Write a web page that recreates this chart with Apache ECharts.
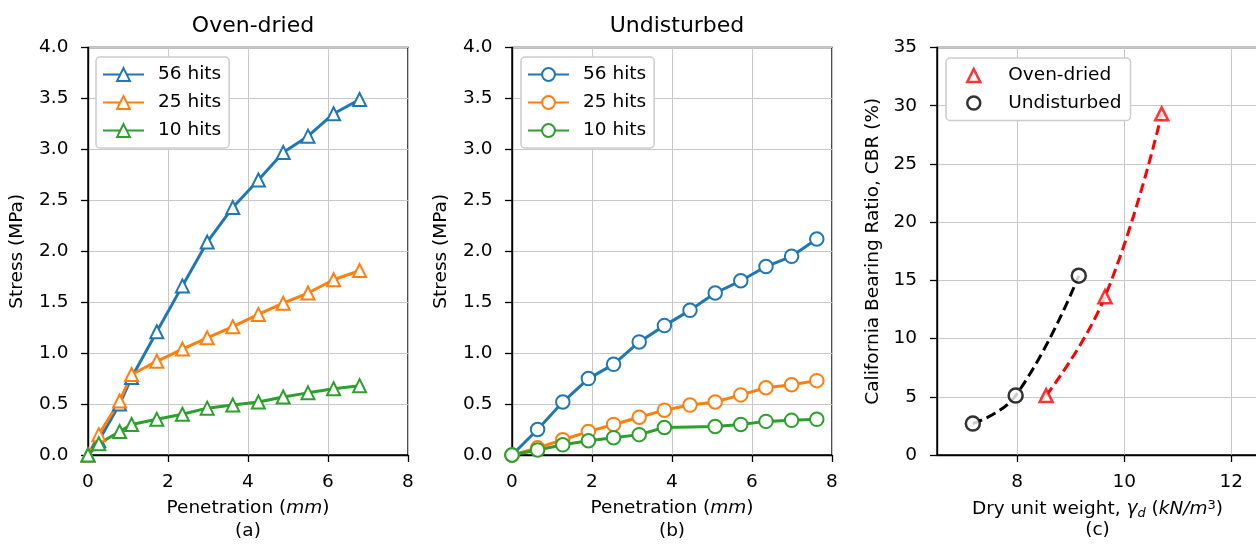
<!DOCTYPE html>
<html>
<head>
<meta charset="utf-8">
<title>CBR test results</title>
<script src="https://cdn.jsdelivr.net/npm/echarts@6/dist/echarts.min.js"></script>
<style>
  html, body { margin: 0; padding: 0; background: #fff; }
  #chart { width: 1256px; height: 545px; }
</style>
</head>
<body>
<div id="chart"></div>
<script>
// Penetration readings (mm) and stresses (MPa), oven-dried specimens
const penOven = [0, 0.27, 0.79, 1.09, 1.72, 2.36, 2.98, 3.62, 4.26, 4.88, 5.50, 6.14, 6.79];
const oven56 = [0, 0.14, 0.50, 0.76, 1.21, 1.66, 2.09, 2.43, 2.70, 2.97, 3.13, 3.35, 3.49];
const oven25 = [0, 0.20, 0.53, 0.79, 0.92, 1.04, 1.15, 1.26, 1.38, 1.49, 1.59, 1.72, 1.81];
const oven10 = [0, 0.11, 0.23, 0.30, 0.35, 0.40, 0.46, 0.49, 0.52, 0.57, 0.61, 0.65, 0.68];

// Penetration readings (mm) and stresses (MPa), undisturbed specimens
const penUnd = [0, 0.64, 1.27, 1.91, 2.54, 3.18, 3.81, 4.45, 5.08, 5.72, 6.35, 6.99, 7.62];
const und56 = [0, 0.25, 0.52, 0.75, 0.89, 1.11, 1.27, 1.42, 1.59, 1.71, 1.85, 1.95, 2.12];
const und25 = [0, 0.07, 0.15, 0.23, 0.30, 0.37, 0.44, 0.49, 0.52, 0.59, 0.66, 0.69, 0.73];
const und10 = [0, 0.05, 0.10, 0.14, 0.17, 0.20, 0.27, null, 0.28, 0.30, 0.33, 0.34, 0.35];

// Dry unit weight (kN/m3) against CBR (%)
const gammaOven = [8.54, 9.64, 10.70];
const cbrOven = [5.1, 13.6, 29.3];
const gammaUnd = [7.17, 7.97, 9.15];
const cbrUnd = [2.7, 5.1, 15.4];

// Axis ticks
const stressTicks = { min: 0, max: 4, interval: 0.5 };
const penTicks = { min: 0, max: 8, interval: 2 };
const cbrTicks = { min: 0, max: 35, interval: 5 };
const gammaRange = { min: 6.5, max: 12.5 };
const gammaTickValues = [8, 10, 12];

const FONT = 'DejaVu Sans';
const FS = 18.5;
const C_BLUE = '#1f77b4', C_ORANGE = '#ff7f0e', C_GREEN = '#2ca02c';

function pairs(xs, ys) {
  const out = [];
  xs.forEach((x, i) => { if (ys[i] != null) out.push([x, ys[i]]); });
  return out;
}

const gridLeft = [88, 512, 937];
const gridTop = 47.5, gridH = 407.5, gridW = 320;

const axisCommon = {
  axisLine: { show: true, onZero: false, lineStyle: { color: '#000', width: 1.4 } },
  axisTick: { show: true, inside: false, length: 7, lineStyle: { color: '#000', width: 1.3 } },
  splitLine: { show: true, lineStyle: { color: '#c8c8c8', width: 1 } },
  axisLabel: { color: '#000', fontSize: FS, fontFamily: FONT }
};

function xAxisPen(gridIndex, tag) {
  return Object.assign({}, axisCommon, {
    type: 'value', gridIndex,
    min: penTicks.min, max: penTicks.max, interval: penTicks.interval,
    axisLabel: Object.assign({}, axisCommon.axisLabel, { margin: 18 }),
    name: 'Penetration ({it|mm})\n' + tag,
    nameLocation: 'middle', nameGap: 42,
    nameTextStyle: {
      color: '#000', fontSize: FS, fontFamily: FONT, lineHeight: 23,
      rich: { it: { fontStyle: 'italic', fontSize: FS, fontFamily: FONT, lineHeight: 23 } }
    }
  });
}

function yAxisStress(gridIndex) {
  return Object.assign({}, axisCommon, {
    type: 'value', gridIndex,
    min: stressTicks.min, max: stressTicks.max, interval: stressTicks.interval,
    axisLabel: Object.assign({}, axisCommon.axisLabel, { margin: 19.5, formatter: v => v.toFixed(1) }),
    name: 'Stress (MPa)', nameLocation: 'middle', nameGap: 61,
    nameTextStyle: { color: '#000', fontSize: FS, fontFamily: FONT }
  });
}

function stressLine(name, xs, ys, color, symbol, size, idx) {
  return {
    type: 'line', name, xAxisIndex: idx, yAxisIndex: idx,
    data: pairs(xs, ys),
    symbol, symbolSize: size, showAllSymbol: true,
    lineStyle: { color, width: 3 },
    itemStyle: { color, borderWidth: 2.5 },
    emphasis: { disabled: true },
    animation: false
  };
}

const legendCommon = {
  orient: 'vertical',
  itemWidth: 41, itemHeight: 16, itemGap: 9,
  padding: [8, 8, 8, 6],
  borderColor: '#cccccc', borderWidth: 1.5, borderRadius: 4,
  backgroundColor: '#ffffff',
  selectedMode: false,
  textStyle: { color: '#000', fontSize: FS, fontFamily: FONT, padding: [0, 0, 0, 9] },
  formatter: n => n.replace(/ \(.*\)$/, '')
};

const option = {
  animation: false,
  backgroundColor: '#ffffff',
  textStyle: { fontFamily: FONT },
  title: [
    { text: 'Oven-dried', left: gridLeft[0] + gridW / 2, top: 10, textAlign: 'center',
      textStyle: { fontSize: 22, fontWeight: 'normal', color: '#000', fontFamily: FONT } },
    { text: 'Undisturbed', left: gridLeft[1] + gridW / 2, top: 10, textAlign: 'center',
      textStyle: { fontSize: 22, fontWeight: 'normal', color: '#000', fontFamily: FONT } }
  ],
  grid: gridLeft.map((l, i) => ({
    left: l, top: gridTop, width: i === 2 ? gridW + 1 : gridW, height: gridH,
    show: true, borderColor: '#000', borderWidth: 1.4, backgroundColor: 'transparent',
    containLabel: false, outerBoundsMode: 'none'
  })),
  legend: [
    Object.assign({}, legendCommon, {
      left: 96, top: 57,
      data: ['56 hits (oven-dried)', '25 hits (oven-dried)', '10 hits (oven-dried)']
    }),
    Object.assign({}, legendCommon, {
      left: 521, top: 57,
      data: ['56 hits (undisturbed)', '25 hits (undisturbed)', '10 hits (undisturbed)']
    }),
    Object.assign({}, legendCommon, {
      left: 946, top: 58, itemWidth: 13, itemHeight: 13, itemGap: 8.5, padding: [8, 9, 8, 20],
      textStyle: { color: '#000', fontSize: FS, fontFamily: FONT, padding: [0, 0, 0, 23] },
      itemStyle: { borderWidth: 2.5 },
      data: ['Oven-dried', 'Undisturbed'],
      formatter: n => n
    })
  ],
  xAxis: [
    xAxisPen(0, '(a)'),
    xAxisPen(1, '(b)'),
    Object.assign({}, axisCommon, {
      type: 'value', gridIndex: 2,
      min: gammaRange.min, max: gammaRange.max,
      axisTick: Object.assign({}, axisCommon.axisTick, { customValues: gammaTickValues }),
      axisLabel: Object.assign({}, axisCommon.axisLabel, { margin: 18, customValues: gammaTickValues }),
      splitLine: Object.assign({}, axisCommon.splitLine),
      name: 'Dry unit weight, {it|γ}{sub|d} ({it|kN/m}{sup|3})\n(c)',
      nameLocation: 'middle', nameGap: 44,
      nameTextStyle: {
        color: '#000', fontSize: FS, fontFamily: FONT, lineHeight: 21,
        rich: {
          it: { fontStyle: 'italic', fontSize: FS, fontFamily: FONT, lineHeight: 21 },
          sub: { fontStyle: 'italic', fontSize: 13, fontFamily: FONT, lineHeight: 12, verticalAlign: 'bottom' },
          sup: { fontSize: 13, fontFamily: FONT, lineHeight: 12, verticalAlign: 'top' }
        }
      }
    })
  ],
  yAxis: [
    yAxisStress(0),
    yAxisStress(1),
    Object.assign({}, axisCommon, {
      type: 'value', gridIndex: 2,
      min: cbrTicks.min, max: cbrTicks.max, interval: cbrTicks.interval,
      axisLabel: Object.assign({}, axisCommon.axisLabel, { margin: 20 }),
      name: 'California Bearing Ratio, CBR (%)', nameLocation: 'middle', nameGap: 54,
      nameTextStyle: { color: '#000', fontSize: FS, fontFamily: FONT }
    })
  ],
  series: [
    stressLine('56 hits (oven-dried)', penOven, oven56, C_BLUE, 'emptyTriangle', 13, 0),
    stressLine('25 hits (oven-dried)', penOven, oven25, C_ORANGE, 'emptyTriangle', 13, 0),
    stressLine('10 hits (oven-dried)', penOven, oven10, C_GREEN, 'emptyTriangle', 13, 0),
    stressLine('56 hits (undisturbed)', penUnd, und56, C_BLUE, 'emptyCircle', 13.5, 1),
    stressLine('25 hits (undisturbed)', penUnd, und25, C_ORANGE, 'emptyCircle', 13.5, 1),
    stressLine('10 hits (undisturbed)', penUnd, und10, C_GREEN, 'emptyCircle', 13.5, 1),
    {
      type: 'line', name: 'oven-dried trend', xAxisIndex: 2, yAxisIndex: 2,
      data: pairs(gammaOven, cbrOven), smooth: 0.45, showSymbol: false, symbol: 'none',
      lineStyle: { color: '#ff0000', width: 3, type: [10, 5] },
      emphasis: { disabled: true }, z: 2
    },
    {
      type: 'line', name: 'undisturbed trend', xAxisIndex: 2, yAxisIndex: 2,
      data: pairs(gammaUnd, cbrUnd), smooth: 0.45, showSymbol: false, symbol: 'none',
      lineStyle: { color: '#000000', width: 3, type: [10, 5] },
      emphasis: { disabled: true }, z: 2
    },
    {
      type: 'scatter', name: 'Oven-dried', xAxisIndex: 2, yAxisIndex: 2,
      data: pairs(gammaOven, cbrOven), symbol: 'triangle', symbolSize: 13,
      itemStyle: { color: '#ffffff', borderColor: '#ff0000', borderWidth: 2.5 },
      emphasis: { disabled: true }, z: 3
    },
    {
      type: 'scatter', name: 'Undisturbed', xAxisIndex: 2, yAxisIndex: 2,
      data: pairs(gammaUnd, cbrUnd), symbol: 'circle', symbolSize: 14,
      itemStyle: { color: '#ffffff', borderColor: '#000000', borderWidth: 2.5 },
      emphasis: { disabled: true }, z: 3
    }
  ]
};

const chart = echarts.init(document.getElementById('chart'), null, { renderer: 'canvas' });
chart.setOption(option);
</script>
</body>
</html>
